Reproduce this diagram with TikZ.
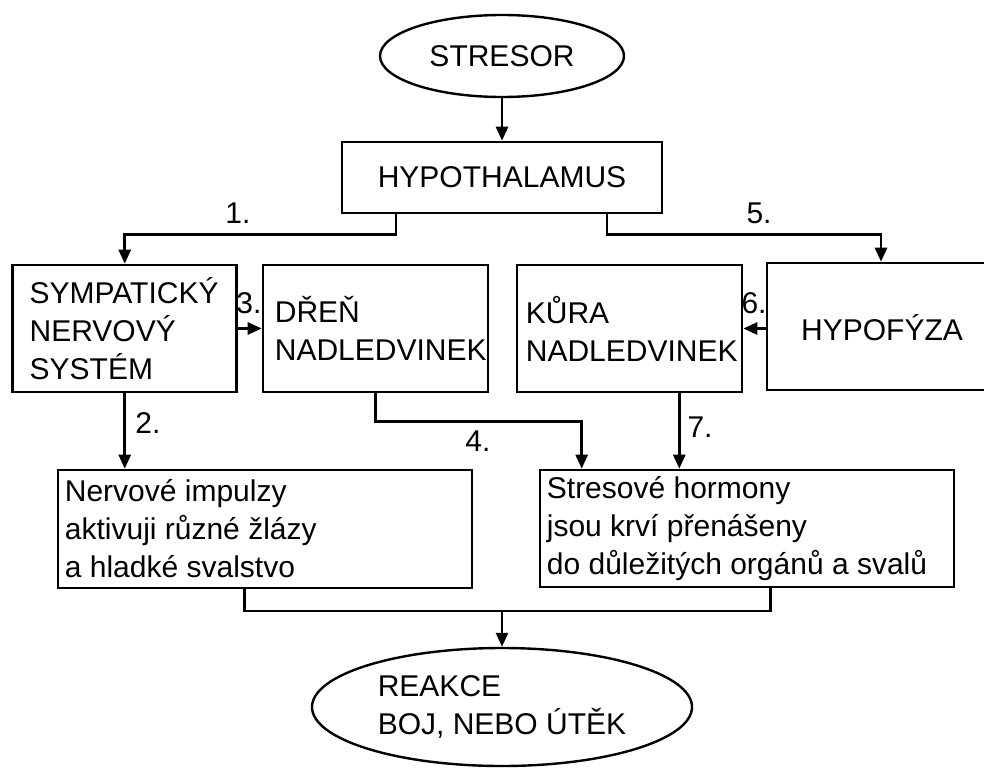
\documentclass[tikz,border=0pt]{standalone}
\usepackage{fontspec}
\setmainfont{Liberation Sans}
\usetikzlibrary{arrows.meta,shapes.geometric}
\tikzset{
  every node/.style={font=\fontsize{30}{38}\selectfont},
  box/.style={draw, line width=2.6pt, anchor=center, inner sep=0pt},
  txt/.style={inner sep=0pt, anchor=west, align=left},
  oval/.style={draw, ellipse, line width=2.4pt, inner sep=0pt, align=left},
  conn/.style={line width=2.6pt},
  arr/.style={line width=2.6pt, -{Triangle[length=14pt,width=12pt]}},
  lbl/.style={inner sep=0pt}
}
\begin{document}
\begin{tikzpicture}[x=1pt,y=-1pt]
\clip (0,0) rectangle (984,770);
\useasboundingbox (0,0) rectangle (984,770);
% ovals
\node[oval, minimum width=244pt, minimum height=82pt] (stresor) at (502,56) {STRESOR};
\node[oval, minimum width=380pt, minimum height=118pt] (reak) at (502,707) {REAKCE\\BOJ, NEBO ÚTĚK};
% boxes
\node[box, minimum width=320pt, minimum height=71pt] (hypo) at (502,177.5) {HYPOTHALAMUS};
\node[box, minimum width=224pt, minimum height=127pt] (sym) at (124.75,328.5) {};
\node[txt] (symt) at ([xshift=18pt]sym.west) {SYMPATICKÝ\\NERVOVÝ\\SYSTÉM};
\node[box, minimum width=225pt, minimum height=127pt] (dren) at (375.5,328.5) {};
\node[txt] (drent) at ([xshift=13pt]dren.west) {DŘEŇ\\NADLEDVINEK};
\node[box, minimum width=225pt, minimum height=127pt] (kura) at (629.5,328.5) {};
\node[txt] (kurat) at ([xshift=10pt]kura.west) {KŮRA\\NADLEDVINEK};
\node[box, minimum width=228pt, minimum height=127pt] (hyp) at (881,326.5) {};
\node[inner sep=0pt] (hypt) at (882,328) {HYPOFÝZA};
\node[box, minimum width=414pt, minimum height=118pt] (nerv) at (265,529) {};
\node[txt] (nervt) at ([xshift=8pt]nerv.west) {Nervové impulzy\\aktivuji různé žlázy\\a hladké svalstvo};
\node[box, minimum width=414pt, minimum height=117pt] (stres) at (747,528.5) {};
\node[txt] (strest) at ([xshift=8pt]stres.west) {Stresové hormony\\jsou krví přenášeny\\do důležitých orgánů a svalů};
% connectors
\draw[arr] (stresor.south) -- (hypo.north);
\draw[arr] ([xshift=-106pt]hypo.south) -- ++(0,20) -| (sym.north);
\draw[arr] ([xshift=105pt]hypo.south) -- ++(0,20) -| (hyp.north);
\draw[arr] (sym.east) -- (dren.west);
\draw[arr] (hyp.west |- kura.east) -- (kura.east);
\draw[arr] (sym.south) -- (sym.south |- nerv.north);
\draw[arr] (dren.south) -- ++(0,28) -| ([xshift=43pt]stres.north west);
\path ([xshift=-64pt]kura.south east) coordinate (k7);
\draw[arr] (k7) -- (k7 |- stres.north);
\path (reak.north) ++(0,-36) coordinate (join);
\draw[conn] ([xshift=188pt]nerv.south west) |- (join) -| ([xshift=232pt]stres.south west);
\draw[arr] (join) -- (reak.north);
% labels
\node[lbl] (l1) at (238,213) {1.};
\node[lbl] (l5) at (759,213) {5.};
\node[lbl] (l3) at (249,303) {3.};
\node[lbl] (l6) at (754,303) {6.};
\node[lbl] (l2) at (148,423) {2.};
\node[lbl] (l4) at (478,441) {4.};
\node[lbl] (l7) at (700,427) {7.};
\end{tikzpicture}
\end{document}
